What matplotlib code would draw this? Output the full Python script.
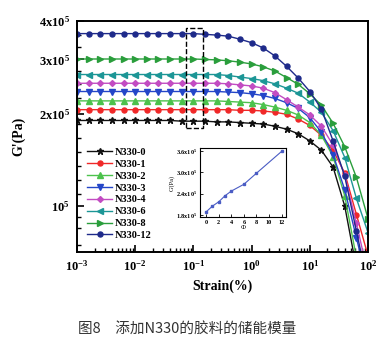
import matplotlib
matplotlib.use("Agg")
import matplotlib.pyplot as plt
from matplotlib.patches import Rectangle
from matplotlib.ticker import FixedLocator, FixedFormatter, NullFormatter

plt.rcParams["font.family"] = ["Liberation Serif", "DejaVu Serif"]
plt.rcParams["font.weight"] = "bold"
plt.rcParams["mathtext.fontset"] = "custom"
plt.rcParams["mathtext.rm"] = "Liberation Serif:bold"
plt.rcParams["mathtext.it"] = "Liberation Serif:bold"
plt.rcParams["mathtext.bf"] = "Liberation Serif:bold"

# strain (%) at 0.2-decade steps, 10^-3 ... 10^2
strain = [0.001, 0.00158, 0.00251, 0.00398, 0.00631, 0.01, 0.0158, 0.0251,
          0.0398, 0.0631, 0.1, 0.158, 0.251, 0.398, 0.631, 1.0, 1.58, 2.51,
          3.98, 6.31, 10.0, 15.8, 25.1, 39.8, 63.1, 100.0]

# G' in units of 1e5 Pa
g_n0 = [1.90, 1.90, 1.90, 1.90, 1.90, 1.90, 1.90, 1.90, 1.90, 1.89, 1.89, 1.89, 1.88,
        1.88, 1.87, 1.86, 1.85, 1.82, 1.78, 1.72, 1.63, 1.52, 1.34, 1.00, 0.63, 0.40]
g_n1 = [2.06, 2.06, 2.06, 2.06, 2.06, 2.06, 2.06, 2.06, 2.06, 2.06, 2.06, 2.06, 2.06,
        2.06, 2.05, 2.05, 2.04, 2.02, 1.99, 1.92, 1.83, 1.70, 1.52, 1.28, 0.94, 0.69]
g_n2 = [2.20, 2.20, 2.20, 2.20, 2.20, 2.20, 2.20, 2.20, 2.20, 2.20, 2.20, 2.20, 2.20,
        2.19, 2.18, 2.17, 2.14, 2.10, 2.05, 1.98, 1.87, 1.70, 1.45, 1.08, 0.68, 0.45]
g_n3 = [2.36, 2.36, 2.36, 2.36, 2.36, 2.36, 2.36, 2.36, 2.36, 2.36, 2.36, 2.36, 2.36,
        2.35, 2.34, 2.32, 2.29, 2.24, 2.17, 2.08, 1.94, 1.74, 1.47, 1.13, 0.79, 0.55]
g_n4 = [2.51, 2.51, 2.51, 2.51, 2.51, 2.51, 2.51, 2.51, 2.51, 2.51, 2.51, 2.51, 2.51,
        2.50, 2.48, 2.46, 2.42, 2.34, 2.22, 2.10, 1.98, 1.82, 1.58, 1.26, 0.88, 0.60]
g_n6 = [2.68, 2.68, 2.68, 2.68, 2.68, 2.68, 2.68, 2.68, 2.68, 2.68, 2.68, 2.68, 2.68,
        2.66, 2.63, 2.60, 2.56, 2.50, 2.42, 2.33, 2.18, 2.02, 1.76, 1.44, 1.06, 0.82]
g_n8 = [3.01, 3.01, 3.01, 3.01, 3.01, 3.01, 3.01, 3.01, 3.01, 3.01, 3.01, 3.00, 2.99,
        2.97, 2.94, 2.90, 2.84, 2.75, 2.62, 2.49, 2.32, 2.13, 1.86, 1.56, 1.24, 0.91]
g_n12 = [3.64, 3.64, 3.64, 3.64, 3.64, 3.64, 3.64, 3.64, 3.64, 3.64, 3.64, 3.62, 3.60,
         3.57, 3.49, 3.40, 3.27, 3.08, 2.85, 2.61, 2.36, 2.07, 1.63, 1.25, 0.83, 0.55]

labels = ["N330-0", "N330-1", "N330-2", "N330-3", "N330-4", "N330-6", "N330-8", "N330-12"]
series = [g_n0, g_n1, g_n2, g_n3, g_n4, g_n6, g_n8, g_n12]
colors = ["#111111", "#f02828", "#4cc24c", "#2446c8", "#c24cc2", "#1c9696", "#2a9e3c", "#1e2a8a"]
markers = ["*", "o", "^", "v", "D", "<", ">", "o"]
msizes = [4.5, 3.6, 3.8, 3.8, 3.0, 3.8, 3.8, 3.6]

# inset: plateau modulus vs filler loading
phi = [0, 1, 2, 3, 4, 6, 8, 12]
g_plateau = [1.89, 2.05, 2.17, 2.34, 2.47, 2.66, 2.97, 3.58]

fig = plt.figure(figsize=(3.83, 3.5), dpi=100)
ax = fig.add_axes([0.201, 0.28, 0.76, 0.66])

for g, lab, c, m, ms in zip(series, labels, colors, markers, msizes):
    ax.plot(strain, [v * 1e5 for v in g], color=c, marker=m, markersize=ms,
            linewidth=1.0, label=lab)

ax.set_xscale("log")
ax.set_yscale("log")
ax.set_xlim(1e-3, 1e2)
ax.set_ylim(7.1e4, 4.0e5)

ax.yaxis.set_major_locator(FixedLocator([1e5, 2e5, 3e5, 4e5]))
ax.yaxis.set_major_formatter(FixedFormatter(
    [r"10$^{5}$", r"2x10$^{5}$", r"3x10$^{5}$", r"4x10$^{5}$"]))
ax.yaxis.set_minor_locator(FixedLocator(
    [7.5e4, 8.5e4, 9.2e4, 1.1e5, 1.22e5, 1.35e5, 1.5e5, 1.67e5, 1.85e5,
     2.25e5, 2.5e5, 2.75e5, 3.3e5, 3.6e5]))
ax.yaxis.set_minor_formatter(NullFormatter())
ax.set_xticks([1e-3, 1e-2, 1e-1, 1e0, 1e1, 1e2])
ax.set_xticklabels([r"10$^{-3}$", r"10$^{-2}$", r"10$^{-1}$", r"10$^{0}$",
                    r"10$^{1}$", r"10$^{2}$"])
ax.tick_params(which="both", direction="in", top=False, right=False,
               labelsize=9, pad=5)
ax.tick_params(which="major", length=5, width=1.2)
ax.tick_params(which="minor", length=3, width=1.0)
for s in ax.spines.values():
    s.set_linewidth(1.4)

ax.set_xlabel("Strain(%)", fontsize=10, fontweight="bold", labelpad=4)
ax.set_ylabel("G'(Pa)", fontsize=10, fontweight="bold", labelpad=10)

ax.add_patch(Rectangle((0.075, 1.8e5), 0.146 - 0.075, 3.79e5 - 1.8e5,
                       fill=False, linestyle="--", linewidth=1.0,
                       edgecolor="black", zorder=5))

leg = ax.legend(loc="lower left", bbox_to_anchor=(0.01, 0.02), frameon=False,
                fontsize=7.5, handlelength=2.4, labelspacing=0.25,
                handletextpad=0.2, borderpad=0.2)

ins = fig.add_axes([0.522, 0.38, 0.2245, 0.197])
ins.plot(phi, [v * 1e5 for v in g_plateau], color="#4a5cc4", marker="s",
         markersize=1.5, linewidth=0.8)
ins.set_xlim(-1, 12.7)
ins.set_ylim(1.744e5, 3.676e5)
ins.set_xticks([0, 2, 4, 6, 8, 10, 12])
ins.set_yticks([1.8e5, 2.4e5, 3.0e5, 3.6e5])
ins.set_yticklabels([r"1.8x10$^{5}$", r"2.4x10$^{5}$", r"3.0x10$^{5}$", r"3.6x10$^{5}$"])
ins.tick_params(direction="in", labelsize=4.5, length=2, width=0.6, pad=2)
for s in ins.spines.values():
    s.set_linewidth(0.8)
ins.set_xlabel("Φ", fontsize=5, labelpad=0)
ins.set_ylabel("G'(Pa)", fontsize=4.5, labelpad=1)

fig.text(0.203, 0.057, "图8\u3000添加N330的胶料的储能模量", fontsize=10.5,
         fontweight="normal", color="#333333", va="center",
         family=["Noto Sans CJK SC", "DejaVu Sans"])

fig.savefig("out.png", dpi=100)
